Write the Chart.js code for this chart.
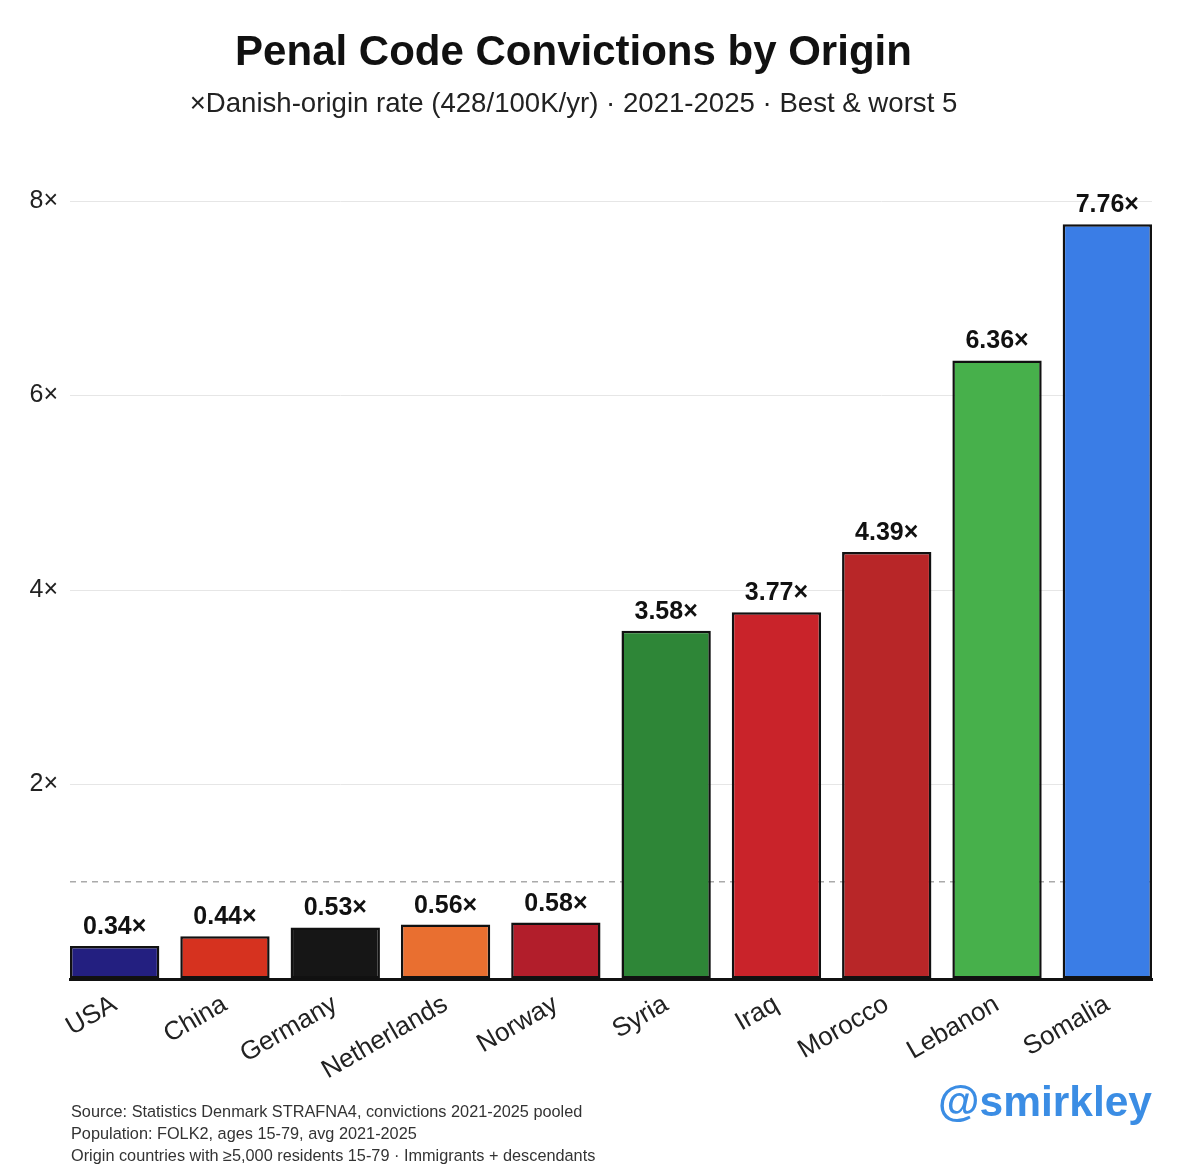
<!DOCTYPE html>
<html>
<head>
<meta charset="utf-8">
<script src="https://cdn.jsdelivr.net/npm/chart.js@4/dist/chart.umd.min.js"></script>
<style>
  html, body { margin: 0; padding: 0; background: #ffffff; }
  body { width: 1200px; height: 1169px; position: relative; overflow: hidden; font-family: "Liberation Sans", Arial, sans-serif; }
  #wrap { position: absolute; left: 0; top: 0; width: 1200px; height: 1169px; }
  .t { position: absolute; line-height: 1; white-space: nowrap; }
  #title { left: 0; width: 1147px; top: 30px; text-align: center; font-size: 42px; font-weight: bold; color: #111; }
  #subtitle { left: 0; width: 1147px; top: 89px; text-align: center; font-size: 27.6px; color: #222; }
  .foot { left: 71px; font-size: 16.3px; color: #333; }
  #handle { right: 48px; top: 1081px; font-size: 42.5px; font-weight: bold; color: #3b8de4; }
</style>
</head>
<body>
<div id="wrap"><canvas id="c" width="1200" height="1169"></canvas></div>
<div class="t" id="title">Penal Code Convictions by Origin</div>
<div class="t" id="subtitle">×Danish-origin rate (428/100K/yr) · 2021-2025 · Best &amp; worst 5</div>
<div class="t foot" style="top:1103px">Source: Statistics Denmark STRAFNA4, convictions 2021-2025 pooled</div>
<div class="t foot" style="top:1125px">Population: FOLK2, ages 15-79, avg 2021-2025</div>
<div class="t foot" style="top:1147px">Origin countries with ≥5,000 residents 15-79 · Immigrants + descendants</div>
<div class="t" id="handle">@smirkley</div>
<script>
const categories = ["USA", "China", "Germany", "Netherlands", "Norway", "Syria", "Iraq", "Morocco", "Lebanon", "Somalia"];
const ratios = [0.34, 0.44, 0.53, 0.56, 0.58, 3.58, 3.77, 4.39, 6.36, 7.76];
const barColors = ["#231f80", "#d6321f", "#161616", "#e96f30", "#b21e2b", "#2e8637", "#c9232a", "#b82628", "#47b04b", "#3a7de6"];
const yTicks = [2, 4, 6, 8];
const danishBaseline = 1;

const FONT = '"Liberation Sans", Arial, sans-serif';
const halfBar = 0.405;

const refLine = {
  id: 'refLine',
  beforeDatasetsDraw(chart) {
    const { ctx, chartArea, scales } = chart;
    const y = scales.y.getPixelForValue(danishBaseline);
    ctx.save();
    ctx.strokeStyle = '#aaaaaa';
    ctx.lineWidth = 1.5;
    ctx.setLineDash([6, 5]);
    ctx.beginPath();
    ctx.moveTo(chartArea.left, y);
    ctx.lineTo(chartArea.right, y);
    ctx.stroke();
    ctx.restore();
  }
};

const valueLabels = {
  id: 'valueLabels',
  afterDatasetsDraw(chart) {
    const { ctx } = chart;
    const meta = chart.getDatasetMeta(0);
    ctx.save();
    ctx.font = 'bold 25px ' + FONT;
    ctx.fillStyle = '#111';
    ctx.textAlign = 'center';
    ctx.textBaseline = 'alphabetic';
    meta.data.forEach((bar, i) => {
      ctx.fillText(ratios[i].toFixed(2) + '×', bar.x, bar.y - 12);
    });
    ctx.restore();
  }
};

new Chart(document.getElementById('c'), {
  type: 'bar',
  data: {
    datasets: [{
      data: categories.map((c, i) => ({ x: i, y: ratios[i] })),
      backgroundColor: barColors,
      borderColor: '#111111',
      borderWidth: 2.5,
      borderSkipped: false,
      barPercentage: 0.81,
      categoryPercentage: 1.0
    }]
  },
  options: {
    responsive: false,
    devicePixelRatio: 1,
    animation: false,
    layout: { padding: { top: 201, right: 48, bottom: 0, left: 0 } },
    plugins: { legend: { display: false }, tooltip: { enabled: false }, title: { display: false } },
    scales: {
      x: {
        type: 'linear',
        min: -halfBar,
        max: categories.length - 1 + halfBar,
        offset: false,
        grid: { display: false },
        border: { display: true, color: '#111111', width: 3 },
        afterBuildTicks(scale) {
          scale.ticks = categories.map((c, i) => ({ value: i }));
        },
        afterFit(scale) { scale.height = 190; },
        ticks: {
          autoSkip: false,
          minRotation: 30,
          maxRotation: 30,
          padding: 2,
          color: '#222',
          font: { family: FONT, size: 26 },
          callback: (v) => categories[v] !== undefined ? categories[v] : ''
        }
      },
      y: {
        min: 0,
        max: 8,
        grid: { color: '#e6e6e6', lineWidth: 1, drawTicks: false },
        border: { display: false },
        afterBuildTicks(scale) {
          scale.ticks = [0].concat(yTicks).map(v => ({ value: v }));
        },
        afterFit(scale) { scale.width = 70; },
        ticks: {
          padding: 12,
          color: '#222',
          font: { family: FONT, size: 25 },
          callback: (v) => v === 0 ? '' : v + '×'
        }
      }
    }
  },
  plugins: [refLine, valueLabels]
});
</script>
</body>
</html>
